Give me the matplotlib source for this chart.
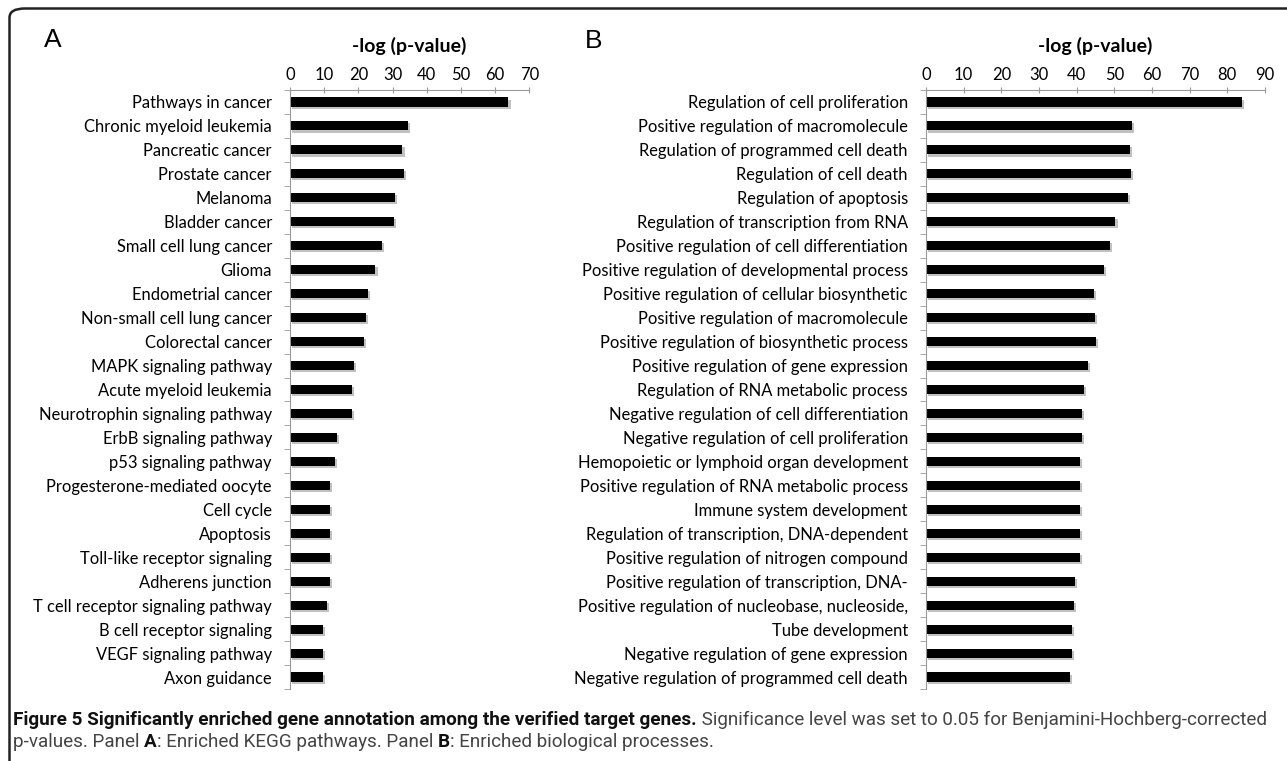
import numpy as np
import matplotlib
matplotlib.use('Agg')
from matplotlib import pyplot as plt
from matplotlib import patheffects
from matplotlib.patches import FancyBboxPatch

kegg_terms = ['Pathways in cancer', 'Chronic myeloid leukemia', 'Pancreatic cancer',
              'Prostate cancer', 'Melanoma', 'Bladder cancer', 'Small cell lung cancer',
              'Glioma', 'Endometrial cancer', 'Non-small cell lung cancer',
              'Colorectal cancer', 'MAPK signaling pathway', 'Acute myeloid leukemia',
              'Neurotrophin signaling pathway', 'ErbB signaling pathway',
              'p53 signaling pathway', 'Progesterone-mediated oocyte', 'Cell cycle',
              'Apoptosis', 'Toll-like receptor signaling', 'Adherens junction',
              'T cell receptor signaling pathway', 'B cell receptor signaling',
              'VEGF signaling pathway', 'Axon guidance']
kegg_vals = [63.9, 34.4, 32.9, 33.3, 30.8, 30.5, 26.8, 25.0, 22.7, 22.2, 21.7, 18.7,
             18.2, 18.2, 13.8, 13.1, 11.8, 11.8, 11.8, 11.8, 11.6, 10.7, 9.7, 9.7, 9.7]

bp_terms = ['Regulation of cell proliferation', 'Positive regulation of macromolecule',
            'Regulation of programmed cell death', 'Regulation of cell death',
            'Regulation of apoptosis', 'Regulation of transcription from RNA',
            'Positive regulation of cell differentiation',
            'Positive regulation of developmental process',
            'Positive regulation of cellular biosynthetic',
            'Positive regulation of macromolecule',
            'Positive regulation of biosynthetic process',
            'Positive regulation of gene expression',
            'Regulation of RNA metabolic process',
            'Negative regulation of cell differentiation',
            'Negative regulation of cell proliferation',
            'Hemopoietic or lymphoid organ development',
            'Positive regulation of RNA metabolic process',
            'Immune system development', 'Regulation of transcription, DNA-dependent',
            'Positive regulation of nitrogen compound',
            'Positive regulation of transcription, DNA-',
            'Positive regulation of nucleobase, nucleoside,', 'Tube development',
            'Negative regulation of gene expression',
            'Negative regulation of programmed cell death']
bp_vals = [83.8, 54.8, 54.2, 54.3, 53.7, 50.3, 48.8, 47.3, 44.5, 44.8, 45.0, 42.9, 41.9,
           41.3, 41.3, 40.9, 40.9, 40.9, 40.9, 40.9, 39.5, 39.3, 38.7, 38.7, 38.1]

kegg_ticks = [0, 10, 20, 30, 40, 50, 60, 70]
bp_ticks = [0, 10, 20, 30, 40, 50, 60, 70, 80, 90]

FONT = 'Lato'
CAP_FONT = 'Roboto'
W, H = 1287, 761

fig = plt.figure(figsize=(W / 100, H / 100), dpi=100)


def panel(rect, terms, vals, ticks):
    ax = fig.add_axes(rect)
    y = np.arange(len(terms))
    shadow = [patheffects.SimplePatchShadow(offset=(1.5, -1.5), shadow_rgbFace='#999999', alpha=0.6),
              patheffects.Normal()]
    bars = ax.barh(y, vals, height=0.38, color='black')
    for b in bars:
        b.set_path_effects(shadow)
    ax.set_ylim(len(terms) - 0.5, -0.5)
    ax.set_xlim(ticks[0], ticks[-1])
    ax.xaxis.tick_top()
    ax.set_xticks(ticks)
    ax.set_xticklabels([str(t) for t in ticks], fontsize=12, family=FONT)
    ax.tick_params(axis='x', length=4, color='#999999', pad=3, direction='inout')
    ax.set_yticks(y)
    ax.set_yticklabels(terms, fontsize=11.9, family=FONT)
    ax.tick_params(axis='y', length=0, pad=13)
    ax.set_yticks(np.arange(len(terms) + 1) - 0.5, minor=True)
    ax.tick_params(axis='y', which='minor', length=4, color='#999999')
    for s in ['right', 'bottom']:
        ax.spines[s].set_visible(False)
    for s in ['top', 'left']:
        ax.spines[s].set_color('#999999')
    ax.set_xlabel('-log (p-value)', fontsize=14, fontweight='bold', family=FONT, labelpad=11)
    ax.xaxis.set_label_position('top')
    return ax


bot = 1 - 689 / H
hgt = (689 - 90) / H
panel([290 / W, bot, 239.3 / W, hgt], kegg_terms, kegg_vals, kegg_ticks)
panel([926 / W, bot, 339 / W, hgt], bp_terms, bp_vals, bp_ticks)

fig.text(53 / W, 1 - 40 / H, 'A', fontsize=19, family='Liberation Sans', va='center', ha='center')
fig.text(594 / W, 1 - 41 / H, 'B', fontsize=19, family='Liberation Sans', va='center', ha='center')

# frame around the whole figure
frame = FancyBboxPatch((9.5 / W, -0.2), 1.2, 1 - 8.5 / H + 0.2,
                       boxstyle='round,pad=0,rounding_size=0.012',
                       transform=fig.transFigure, fill=False, lw=1.8,
                       edgecolor='#222222', clip_on=False)
fig.patches.append(frame)

# caption: first line is fitted to the width of the frame
cap_bold = 'Figure 5 Significantly enriched gene annotation among the verified target genes.'
cap_rest = ' Significance level was set to 0.05 for Benjamini-Hochberg-corrected'
cap_y1 = 1 - 720 / H
cap_y2 = 1 - 742 / H
x0 = 13
r = fig.canvas.get_renderer()

t1 = fig.text(x0 / W, cap_y1, cap_bold, fontsize=10, fontweight='bold',
              family=CAP_FONT, va='center', color='#111111')
t2 = fig.text(0, cap_y1, cap_rest, fontsize=10, family=CAP_FONT, va='center', color='#444444')
w_total = t1.get_window_extent(r).width + t2.get_window_extent(r).width
cap_fs = 10 * (1273 - x0) / w_total
t1.set_fontsize(cap_fs)
t2.set_fontsize(cap_fs)
t2.set_x(t1.get_window_extent(r).x1 / W)

parts = [('p-values. Panel ', 'normal'), ('A', 'bold'), (': Enriched KEGG pathways. Panel ', 'normal'),
         ('B', 'bold'), (': Enriched biological processes.', 'normal')]
x = x0
for txt, wt in parts:
    t = fig.text(x / W, cap_y2, txt, fontsize=cap_fs, fontweight=wt, family=CAP_FONT,
                 va='center', color='#111111' if wt == 'bold' else '#444444')
    x = t.get_window_extent(r).x1

fig.savefig('out.png', dpi=100)
